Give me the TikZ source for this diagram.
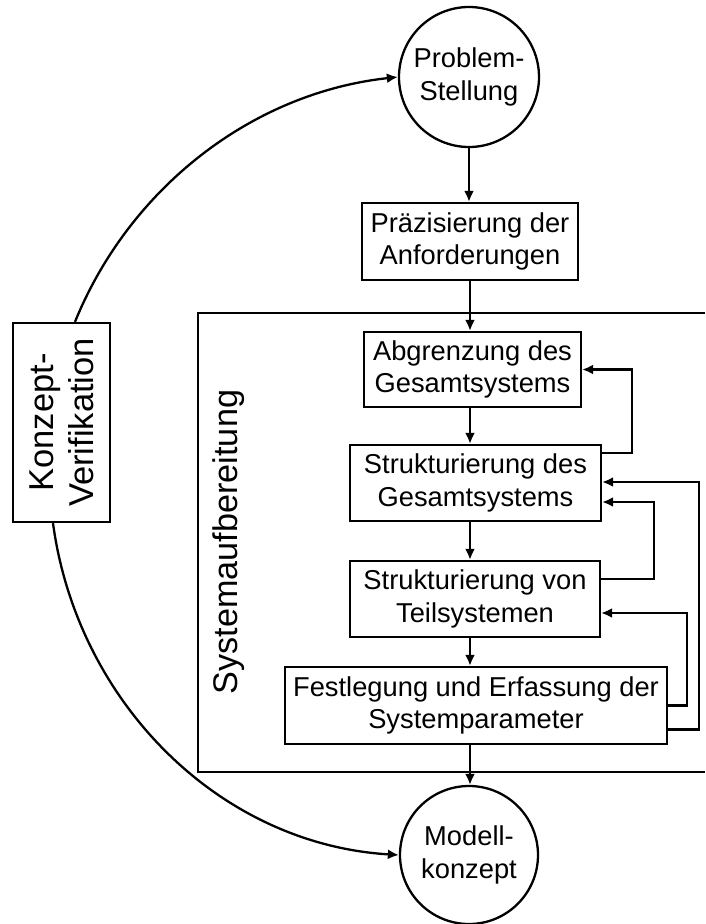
\documentclass[tikz,border=0pt]{standalone}
\usepackage{fontspec}
\setmainfont{Liberation Sans}
\usetikzlibrary{arrows.meta}
\begin{document}
\begin{tikzpicture}[x=1pt,y=-1pt,
  lw/.style={line width=2.3pt},
  arr/.style={lw,-{Latex[length=11pt,width=10pt]}},
  boxnode/.style={draw,lw,inner sep=0pt,align=center,font=\fontsize{27.3}{32.5}\selectfont},
  circnode/.style={draw,lw,circle,inner sep=0pt,align=center,font=\fontsize{27.3}{32.5}\selectfont}]
\useasboundingbox (0,0) rectangle (705,924);
\fill[white] (0,0) rectangle (705,924);
\coordinate (ax) at (470,0);
% frame
\coordinate (ftr) at (705,313);
\coordinate (ftl) at (198,313);
\coordinate (fbl) at (198,772);
\coordinate (fbr) at (705,772);
\draw[lw] (ftr) -- (ftl) -- (fbl) -- (fbr);
% nodes
\node[circnode,minimum size=140pt] (pr) at (469,77) {Problem-\\Stellung};
\node[circnode,minimum size=138pt] (mk) at (469,855) {Modell-\\konzept};
\node[boxnode,minimum width=216pt,minimum height=77pt] (pz) at (470,241.5) {Präzisierung der\\Anforderungen};
\node[boxnode,minimum width=217pt,minimum height=75pt] (ab) at (472.5,369.5) {Abgrenzung des\\Gesamtsystems};
\node[boxnode,minimum width=251pt,minimum height=76pt] (sg) at (475.5,483) {Strukturierung des\\Gesamtsystems};
\node[boxnode,minimum width=250pt,minimum height=76pt] (ts) at (475,599) {Strukturierung von\\Teilsystemen};
\node[boxnode,minimum width=382pt,minimum height=77pt] (fe) at (476,705.5) {Festlegung und Erfassung der\\Systemparameter};
\node[draw,lw,inner sep=0pt,align=center,rotate=90,minimum width=199pt,minimum height=97pt,
  font=\fontsize{34.5}{40}\selectfont] (kv) at (61.5,422.5) {Konzept-\\Verifikation};
\node[rotate=90,inner sep=0pt,font=\fontsize{34.2}{40}\selectfont] (sa) at (229,542) {Systemaufbereitung};
% main flow
\draw[arr] (pr.south) -- (pr.south |- pz.north);
\draw[arr] (pz.south -| ax) -- (ab.north -| ax);
\draw[arr] (ab.south -| ax) -- (sg.north -| ax);
\draw[arr] (sg.south -| ax) -- (ts.north -| ax);
\draw[arr] (ts.south -| ax) -- (fe.north -| ax);
\draw[arr] (fe.south -| ax) -- (mk.north -| ax);
% feedback loops
\draw[arr] ([yshift=30pt]sg.east) -- ++(30,0) |- (ab.east);
\draw[arr] ([yshift=-24pt]fe.east) -- ++(31,0) |- ([yshift=1pt]sg.east);
\draw[arr] ([yshift=20pt]ts.east) -- ++(53,0) |- ([yshift=-19pt]sg.east);
\draw[arr] (fe.east) -- ++(19,0) |- ([yshift=-14pt]ts.east);
% verification arcs
\draw[arr] ([xshift=13.5pt]kv.east) .. controls (129,189) and (251,93) .. (pr.west);
\draw[arr] ([xshift=-8.5pt]kv.west) .. controls (77,701) and (218,844) .. (mk.west);
\end{tikzpicture}
\end{document}
